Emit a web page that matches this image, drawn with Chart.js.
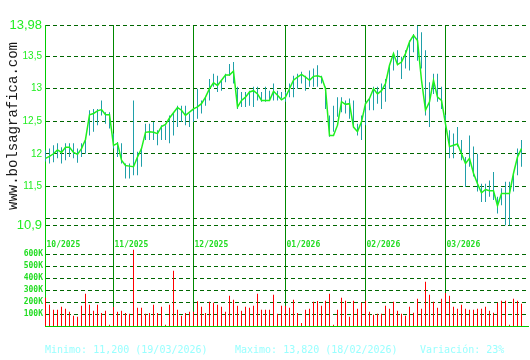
<!DOCTYPE html>
<html>
<head>
<meta charset="utf-8">
<script src="https://cdn.jsdelivr.net/npm/chart.js@4.4.1/dist/chart.umd.min.js"></script>
<style>
  html, body { margin: 0; padding: 0; background: #fff; }
  #wrap { position: relative; width: 530px; height: 360px; }
  #footer span { position: absolute; top: 344px; font: 10px "DejaVu Sans Mono", monospace; line-height: 12px; color: #99ffff; white-space: pre; }
</style>
</head>
<body>
<div id="wrap">
  <canvas id="chart" width="530" height="360"></canvas>
  <div id="footer"></div>
</div>
<script>
// sesiones (indice 0..119), cierres, maximos, minimos y volumen (miles)
const closes = [
  11.93, 11.96, 12.00, 12.06, 12.02, 12.10, 12.10, 12.02, 11.99, 12.08,
  12.22, 12.60, 12.62, 12.66, 12.68, 12.60, 12.60, 12.13, 12.16, 11.90,
  11.82, 11.81, 11.80, 11.95, 12.08, 12.33, 12.34, 12.33, 12.31, 12.42,
  12.45, 12.55, 12.63, 12.71, 12.67, 12.59, 12.64, 12.69, 12.72, 12.77,
  12.87, 13.00, 13.09, 13.05, 13.13, 13.21, 13.21, 13.27, 12.72, 12.82,
  12.87, 12.95, 12.97, 12.92, 12.82, 12.82, 12.82, 12.96, 12.90, 12.83,
  12.87, 13.00, 13.13, 13.18, 13.22, 13.18, 13.13, 13.19, 13.20, 13.18,
  13.00, 12.28, 12.28, 12.44, 12.80, 12.76, 12.77, 12.41, 12.34, 12.49,
  12.77, 12.85, 13.00, 12.92, 12.97, 13.08, 13.36, 13.54, 13.37, 13.41,
  13.54, 13.72, 13.82, 13.74, 13.13, 12.67, 12.80, 13.13, 12.87, 12.82,
  12.46, 12.11, 12.13, 12.15, 12.00, 11.85, 11.93, 11.70, 11.54, 11.40,
  11.45, 11.43, 11.43, 11.20, 11.39, 11.39, 11.39, 11.70, 11.95, 12.08
];
const highs = [
  12.05, 12.08, 12.13, 12.16, 12.10, 12.16, 12.16, 12.16, 12.08, 12.16,
  12.22, 12.67, 12.69, 12.69, 12.82, 12.64, 12.64, 12.31, 12.18, 12.16,
  11.85, 11.85, 12.82, 12.03, 12.10, 12.46, 12.46, 12.49, 12.36, 12.44,
  12.44, 12.59, 12.64, 12.74, 12.74, 12.74, 12.62, 12.67, 13.00, 12.82,
  12.87, 13.15, 13.23, 13.20, 13.13, 13.23, 13.38, 13.41, 13.03, 12.95,
  12.95, 12.97, 13.03, 13.03, 12.95, 13.03, 12.97, 13.08, 12.97, 12.95,
  12.95, 13.08, 13.20, 13.23, 13.26, 13.20, 13.28, 13.31, 13.36, 13.20,
  13.03, 12.59, 12.74, 12.87, 12.87, 12.82, 12.85, 12.82, 12.46, 12.59,
  12.80, 12.85, 13.03, 13.03, 13.08, 13.15, 13.38, 13.54, 13.59, 13.49,
  13.59, 13.74, 13.84, 13.97, 13.87, 13.59, 13.10, 13.23, 13.23, 13.03,
  12.60, 12.36, 12.31, 12.41, 12.21, 11.95, 12.28, 12.11, 12.00, 11.54,
  11.54, 11.59, 11.72, 11.34, 11.47, 11.57, 11.57, 11.70, 12.08, 12.21
];
const lows = [
  11.88, 11.85, 11.87, 11.93, 11.85, 11.90, 11.95, 11.93, 11.86, 11.95,
  12.00, 12.28, 12.34, 12.44, 12.59, 12.46, 12.39, 12.08, 11.95, 11.85,
  11.62, 11.62, 11.67, 11.67, 11.80, 12.21, 12.21, 12.21, 12.13, 12.21,
  12.21, 12.16, 12.28, 12.41, 12.49, 12.44, 12.41, 12.49, 12.54, 12.62,
  12.74, 12.82, 13.03, 12.95, 12.97, 13.10, 13.20, 13.08, 12.69, 12.72,
  12.72, 12.74, 12.72, 12.82, 12.80, 12.80, 12.82, 12.82, 12.82, 12.85,
  12.80, 12.87, 12.87, 13.00, 13.08, 12.97, 13.03, 13.03, 13.03, 13.08,
  12.69, 12.26, 12.34, 12.57, 12.64, 12.62, 12.54, 12.41, 12.28, 12.21,
  12.44, 12.67, 12.67, 12.77, 12.69, 12.80, 13.00, 13.28, 13.36, 13.15,
  13.31, 13.28, 13.56, 13.43, 13.31, 12.59, 12.41, 12.92, 12.80, 12.69,
  12.40, 11.93, 11.93, 12.11, 11.90, 11.49, 11.80, 11.65, 11.42, 11.26,
  11.26, 11.34, 11.29, 11.08, 11.21, 10.90, 10.90, 11.42, 11.67, 11.80
];
const volumes = [
  236, 178, 136, 136, 161, 144, 119, 86, 78, 169,
  269, 178, 128, 178, 108, 128, 11, 158, 119, 128,
  108, 103, 636, 153, 153, 103, 108, 178, 108, 161,
  11, 178, 461, 136, 86, 108, 119, 119, 206, 161,
  108, 203, 194, 178, 161, 119, 253, 219, 169, 128,
  161, 153, 169, 269, 136, 136, 136, 261, 103, 169,
  169, 153, 219, 108, 25, 136, 144, 203, 208, 169,
  211, 269, 11, 136, 236, 211, 78, 211, 144, 194,
  211, 119, 94, 103, 103, 169, 144, 203, 128, 103,
  86, 161, 111, 228, 144, 369, 261, 203, 153, 228,
  275, 253, 161, 144, 178, 144, 136, 136, 144, 144,
  161, 128, 111, 194, 211, 211, 11, 228, 211, 186
];
const monthStarts = [0, 17, 37, 60, 80, 100];
const monthLabels = ['10/2025', '11/2025', '12/2025', '01/2026', '02/2026', '03/2026'];
const priceTicks = [10.9, 11, 11.5, 12, 12.5, 13, 13.5, 13.98];
const volumeTicks = [100, 200, 300, 400, 500, 600];
const footerTexts = ['Minimo: 11,200 (19/03/2026)', 'Maximo: 13,820 (18/02/2026)', 'Variación: 23%'];
const footerLeft = [45, 235, 420];

const footer = document.getElementById('footer');
footerTexts.forEach((t, i) => {
    const s = document.createElement('span');
    s.textContent = t;
    s.style.left = footerLeft[i] + 'px';
    footer.appendChild(s);
});

const extras = {
    id: 'extras',
    afterDraw(chart) {
        const ctx = chart.ctx;
        const x = chart.scales.x;
        ctx.save();
        // etiquetas de mes entre los dos paneles
        ctx.font = 'bold 8px "DejaVu Sans Mono"';
        ctx.fillStyle = '#22dd22';
        ctx.textAlign = 'left';
        ctx.textBaseline = 'alphabetic';
        monthStarts.forEach((m, i) => {
            ctx.fillText(monthLabels[i], x.getPixelForValue(m) + 1, 247);
        });
        // marca de agua vertical
        ctx.translate(17, 126);
        ctx.rotate(-Math.PI / 2);
        ctx.font = '14px "Liberation Mono"';
        ctx.fillStyle = '#1a1a1a';
        ctx.textAlign = 'center';
        ctx.fillText('www.bolsagrafica.com', 0, 0);
        ctx.restore();
    }
};

new Chart(document.getElementById('chart'), {
    type: 'bar',
    data: {
        datasets: [
            {
                type: 'line',
                data: closes.map((c, i) => ({ x: i, y: c })),
                yAxisID: 'y',
                borderColor: '#1ef01e',
                borderWidth: 1.5,
                pointRadius: 0,
                tension: 0,
                order: 0
            },
            {
                type: 'bar',
                data: highs.map((h, i) => ({ x: i, y: [lows[i], h] })),
                yAxisID: 'y',
                backgroundColor: '#1f9fa9',
                barThickness: 1,
                inflateAmount: 0,
                grouped: false,
                order: 1
            },
            {
                type: 'bar',
                data: volumes.map((v, i) => ({ x: i, y: v })),
                yAxisID: 'yv',
                backgroundColor: '#ff0000',
                barThickness: 1,
                inflateAmount: 0,
                grouped: false,
                order: 1
            }
        ]
    },
    options: {
        responsive: false,
        animation: false,
        layout: { padding: { top: 25, left: 0, right: 2, bottom: 34 } },
        plugins: { legend: { display: false }, tooltip: { enabled: false } },
        scales: {
            x: {
                type: 'linear',
                min: -0.125,
                max: 120.625,
                offset: false,
                afterBuildTicks: s => { s.ticks = monthStarts.map(v => ({ value: v })); },
                afterFit: s => { s.height = 0; },
                ticks: { display: false },
                grid: { offset: false, drawTicks: false, color: '#008800', lineWidth: 1 },
                border: { display: true, color: '#00cc00', width: 1 }
            },
            y: {
                type: 'linear',
                position: 'left',
                stack: 'main',
                stackWeight: 223,
                weight: 2,
                min: 10.551,
                max: 13.98,
                beginAtZero: false,
                afterBuildTicks: s => { s.ticks = priceTicks.map(v => ({ value: v })); },
                afterFit: s => { s.width = 45; },
                ticks: {
                    autoSkip: false,
                    padding: 3,
                    color: '#22ee22',
                    font: c => ({
                        family: 'Liberation Sans',
                        size: (c.tick && (c.tick.value === 13.98 || c.tick.value === 10.9)) ? 13 : 10
                    }),
                    callback: v => v === 11 ? '' : String(v).replace('.', ',')
                },
                grid: { drawTicks: false, color: '#006600', lineWidth: 1 },
                border: { display: true, color: '#00cc00', width: 1, dash: [4, 3] }
            },
            yv: {
                type: 'linear',
                position: 'left',
                stack: 'main',
                stackWeight: 78,
                weight: 1,
                min: 0,
                max: 650,
                afterBuildTicks: s => { s.ticks = volumeTicks.map(v => ({ value: v })); },
                afterFit: s => { s.width = 45; },
                ticks: {
                    autoSkip: false,
                    padding: 2,
                    color: '#22dd22',
                    font: { family: 'DejaVu Sans Mono', size: 8, weight: 'bold' },
                    callback: v => v + 'K'
                },
                grid: { drawTicks: false, color: '#006600', lineWidth: 1 },
                border: { display: true, color: '#00cc00', width: 1, dash: [4, 3] }
            }
        }
    },
    plugins: [extras]
});
</script>
</body>
</html>
